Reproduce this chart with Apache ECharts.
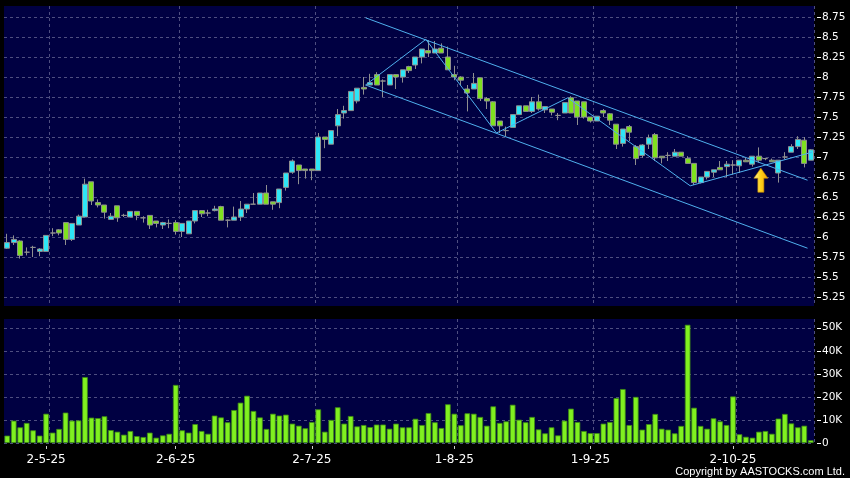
<!DOCTYPE html>
<html><head><meta charset="utf-8">
<script src="https://cdn.jsdelivr.net/npm/echarts@6/dist/echarts.min.js"></script>
<style>html,body{margin:0;padding:0;background:#000;}#c{width:850px;height:478px;}</style>
</head><body><div id="c"></div>
<script>
const categories = [
'23-4-25','24-4-25','25-4-25','28-4-25','29-4-25','30-4-25',
'2-5-25','6-5-25','7-5-25','8-5-25','9-5-25','12-5-25','13-5-25','14-5-25','15-5-25','16-5-25','19-5-25','20-5-25','21-5-25','22-5-25','23-5-25','26-5-25','27-5-25','28-5-25','29-5-25','30-5-25',
'2-6-25','3-6-25','4-6-25','5-6-25','6-6-25','9-6-25','10-6-25','11-6-25','12-6-25','13-6-25','16-6-25','17-6-25','18-6-25','19-6-25','20-6-25','23-6-25','24-6-25','25-6-25','26-6-25','27-6-25','30-6-25',
'2-7-25','3-7-25','4-7-25','7-7-25','8-7-25','9-7-25','10-7-25','11-7-25','14-7-25','15-7-25','16-7-25','17-7-25','18-7-25','21-7-25','22-7-25','23-7-25','24-7-25','25-7-25','28-7-25','29-7-25','30-7-25','31-7-25',
'1-8-25','4-8-25','5-8-25','6-8-25','7-8-25','8-8-25','11-8-25','12-8-25','13-8-25','14-8-25','15-8-25','18-8-25','19-8-25','20-8-25','21-8-25','22-8-25','25-8-25','26-8-25','27-8-25','28-8-25','29-8-25',
'1-9-25','2-9-25','3-9-25','4-9-25','5-9-25','8-9-25','9-9-25','10-9-25','11-9-25','12-9-25','15-9-25','16-9-25','17-9-25','18-9-25','19-9-25','22-9-25','23-9-25','24-9-25','25-9-25','26-9-25','29-9-25','30-9-25',
'2-10-25','3-10-25','6-10-25','8-10-25','9-10-25','10-10-25','13-10-25','14-10-25','15-10-25','16-10-25','17-10-25','20-10-25','21-10-25'
];
const opens = [
5.86,5.93,5.95,5.81,5.87,5.82,5.82,6.05,6.09,6.18,5.97,6.15,6.25,6.69,6.43,6.40,6.22,6.39,6.27,6.25,
6.32,6.24,6.27,6.20,6.15,6.17,6.18,6.07,6.04,6.20,6.33,6.30,6.33,6.38,6.21,6.21,6.25,6.35,6.41,6.41,
6.55,6.44,6.43,6.62,6.81,6.90,6.85,6.85,6.83,7.25,7.16,7.39,7.55,7.58,7.70,7.87,7.90,8.03,7.95,7.90,
8.03,8.00,8.13,8.15,8.25,8.33,8.30,8.36,8.25,8.03,8.00,7.85,7.85,7.99,7.73,7.69,7.45,7.33,7.37,7.53,
7.64,7.57,7.69,7.59,7.60,7.52,7.55,7.74,7.70,7.69,7.50,7.45,7.58,7.54,7.41,7.17,7.38,7.13,7.02,7.16,
7.28,7.01,7.02,7.01,7.06,6.98,6.92,6.68,6.75,6.81,6.87,6.88,6.90,6.89,6.96,6.91,7.01,6.98,6.96,6.80,
7.00,7.06,7.13,7.21,6.96
];
const closes = [
5.93,5.97,5.77,5.81,5.87,5.85,6.02,6.05,6.05,5.97,6.17,6.26,6.66,6.45,6.40,6.31,6.26,6.24,6.27,6.32,
6.27,6.24,6.15,6.17,6.18,6.17,6.07,6.17,6.20,6.33,6.29,6.30,6.35,6.21,6.21,6.25,6.35,6.41,6.41,6.55,
6.41,6.41,6.60,6.80,6.95,6.83,6.83,6.83,7.25,7.22,7.33,7.53,7.58,7.82,7.86,7.85,7.93,7.90,7.95,8.03,
8.00,8.09,8.08,8.25,8.35,8.30,8.35,8.30,8.09,8.00,7.96,7.80,7.92,7.73,7.70,7.39,7.39,7.33,7.53,7.64,
7.57,7.69,7.60,7.63,7.56,7.52,7.68,7.55,7.50,7.50,7.45,7.51,7.55,7.46,7.16,7.35,7.31,6.98,7.15,7.24,
6.99,6.99,7.02,7.06,7.01,6.92,6.68,6.75,6.82,6.84,6.84,6.91,6.90,6.96,6.94,7.01,6.96,6.98,6.94,6.96,
7.00,7.13,7.22,6.92,7.09
];
const lows = [
5.85,5.90,5.73,5.77,5.75,5.76,5.82,6.01,6.02,5.90,5.95,6.15,6.25,6.40,6.37,6.23,6.22,6.19,6.25,6.25,
6.21,6.18,6.10,6.12,6.10,6.11,6.03,6.00,6.04,6.17,6.25,6.26,6.32,6.21,6.12,6.21,6.20,6.30,6.41,6.41,
6.41,6.34,6.36,6.58,6.79,6.66,6.73,6.71,6.83,7.11,7.16,7.26,7.48,7.58,7.67,7.78,7.90,7.90,7.75,7.90,
7.85,7.93,8.05,8.10,8.17,8.25,8.30,8.30,8.09,7.96,7.90,7.57,7.85,7.70,7.60,7.39,7.30,7.26,7.37,7.53,
7.57,7.55,7.58,7.55,7.52,7.46,7.55,7.55,7.40,7.48,7.43,7.45,7.50,7.40,7.10,7.13,7.20,6.90,6.99,7.10,
6.95,6.92,6.95,7.01,7.01,6.92,6.65,6.67,6.72,6.75,6.84,6.75,6.78,6.80,6.94,6.88,6.93,6.96,6.94,6.68,
6.97,7.06,7.10,6.87,6.96
];
const highs = [
6.04,6.02,5.96,5.87,5.89,5.86,6.02,6.11,6.10,6.18,6.17,6.28,6.73,6.69,6.47,6.40,6.30,6.39,6.29,6.32,
6.32,6.26,6.27,6.20,6.19,6.22,6.21,6.17,6.20,6.33,6.33,6.34,6.39,6.39,6.22,6.38,6.45,6.41,6.55,6.55,
6.65,6.44,6.60,6.80,6.97,6.90,6.85,6.85,7.30,7.25,7.33,7.60,7.64,7.82,7.86,8.00,8.04,8.06,7.97,8.03,
8.03,8.09,8.14,8.25,8.35,8.46,8.45,8.42,8.38,8.14,8.01,7.90,8.05,7.99,7.75,7.70,7.45,7.38,7.53,7.64,
7.64,7.75,7.78,7.63,7.60,7.55,7.68,7.76,7.70,7.69,7.50,7.51,7.60,7.55,7.41,7.35,7.40,7.15,7.16,7.28,
7.30,7.01,7.06,7.10,7.06,7.01,6.92,6.75,6.82,6.84,6.95,6.95,6.96,6.96,6.99,7.01,7.12,6.99,6.98,6.96,
7.06,7.16,7.26,7.25,7.10
];
const volumes = [
3200,9700,6800,8700,5500,3200,12700,4500,6100,13200,9700,9800,28600,11000,10800,11600,5600,4900,3600,5200,
3000,2600,4500,2300,3300,4000,25200,5500,4500,8200,5200,4000,11900,11100,9000,14300,17500,20500,13900,11100,
6100,12700,11900,12300,8400,7500,6400,9100,14600,4900,10000,15500,8400,11700,7200,7800,6900,8000,8000,6200,
8400,6800,6800,10500,7800,13000,9000,6500,16800,12700,7700,12900,12700,11300,7500,15900,8700,9400,16600,10100,
9000,11300,5900,4200,6800,3300,9700,14900,9100,5200,4300,4300,8400,9100,19500,23400,7800,20000,5800,8200,
12600,6200,5800,4200,7400,51300,15300,7400,6200,10700,9400,7800,20200,3800,2700,2300,4900,5200,4000,10600,
12600,8500,6800,7500,1200
];
const xTickLabels = ['2-5-25','2-6-25','2-7-25','1-8-25','1-9-25','2-10-25'];
const priceTicks = [5.25,5.5,5.75,6,6.25,6.5,6.75,7,7.25,7.5,7.75,8,8.25,8.5,8.75];
const volumeTicks = [0,10000,20000,30000,40000,50000];
// annotation lines, in [bar index, price]
const trendZigzag = [[55.3,7.90],[64.6,8.47],[75.5,7.30],[86.5,7.74],[105.4,6.64],[124.2,7.06]];
const channelUpper = [[55.3,8.74],[123.5,6.71]];
const channelLower = [[55.3,7.90],[123.5,5.86]];
const arrowMark = [[116.3,6.71]];

const ohlc = categories.map((c,i)=>[opens[i],closes[i],lows[i],highs[i]]);
const isTick = (idx,val)=>xTickLabels.includes(categories[idx]);
const isSplit = (idx)=>idx>0 && xTickLabels.includes(categories[idx-1]);

const NAVY = '#000042';
const GRIDLINE = {color:'#4e4e80', type:[3,3], width:1};
const LABEL_Y = {color:'#ffffff', fontFamily:'DejaVu Sans', fontSize:10.5, margin:5};
const LINE_COLOR = '#4fb0ee';

const chart = echarts.init(document.getElementById('c'), null, {renderer:'canvas'});
chart.setOption({
  backgroundColor:'#000000',
  animation:false,
  grid:[
    {left:4, right:36, top:6, height:300, show:true, backgroundColor:NAVY, borderWidth:0},
    {left:4, right:36, top:319, height:124, show:true, backgroundColor:NAVY, borderWidth:0}
  ],
  xAxis:[
    {type:'category', gridIndex:0, data:categories, boundaryGap:true,
     axisLine:{show:false, onZero:false}, axisTick:{show:false}, axisLabel:{show:false},
     splitLine:{show:true, interval:isSplit, lineStyle:GRIDLINE}},
    {type:'category', gridIndex:1, data:categories, boundaryGap:true, offset:3,
     axisLine:{show:false, onZero:false},
     axisTick:{show:true, alignWithLabel:true, interval:isTick, length:3, lineStyle:{color:'#cccccc'}},
     axisLabel:{show:true, interval:isTick, color:'#ffffff', fontFamily:'DejaVu Sans', fontSize:12, margin:8},
     splitLine:{show:true, interval:isSplit, lineStyle:GRIDLINE}},
    {type:'value', gridIndex:0, min:-0.5, max:categories.length-0.5, show:false, axisLine:{onZero:false}}
  ],
  yAxis:[
    {type:'value', gridIndex:0, position:'right', min:5.1375, max:8.8875, offset:3,
     axisLine:{show:false, onZero:false},
     axisTick:{show:true, length:4, customValues:priceTicks, lineStyle:{color:'#ffffff', width:1}},
     axisLabel:Object.assign({customValues:priceTicks, formatter:v=>String(v)}, LABEL_Y),
     splitLine:{show:true, lineStyle:GRIDLINE}},
    {type:'value', gridIndex:1, position:'right', min:0, max:53800, offset:3,
     axisLine:{show:false, onZero:false},
     axisTick:{show:true, length:4, customValues:volumeTicks, lineStyle:{color:'#ffffff', width:1}},
     axisLabel:Object.assign({customValues:volumeTicks, formatter:v=>v===0?'0':(v/1000)+'K'}, LABEL_Y),
     splitLine:{show:true, lineStyle:GRIDLINE}}
  ],
  series:[
    {type:'candlestick', xAxisIndex:0, yAxisIndex:0, data:ohlc, barWidth:5.5,
     itemStyle:{color:'#2ee6f6', color0:'#7fe11f', borderColor:'#8f8f8f', borderColor0:'#8f8f8f', borderColorDoji:'#8f8f8f', borderWidth:1}},
    {type:'bar', xAxisIndex:1, yAxisIndex:1, data:volumes, barWidth:5.6,
     itemStyle:{color:'#80f020', borderColor:'#3d8c14', borderWidth:0.8}},
    {type:'line', xAxisIndex:2, yAxisIndex:0, data:trendZigzag, symbol:'none', silent:true, z:5,
     lineStyle:{color:LINE_COLOR, width:1}},
    {type:'line', xAxisIndex:2, yAxisIndex:0, data:channelUpper, symbol:'none', silent:true, z:5,
     lineStyle:{color:LINE_COLOR, width:1}},
    {type:'line', xAxisIndex:2, yAxisIndex:0, data:channelLower, symbol:'none', silent:true, z:5,
     lineStyle:{color:LINE_COLOR, width:1}},
    {type:'scatter', xAxisIndex:2, yAxisIndex:0, data:arrowMark, silent:true, z:6,
     symbol:'path://M7,0 L14,10 L10,10 L10,24 L4,24 L4,10 L0,10 Z', symbolSize:[14,24],
     itemStyle:{opacity:1, color:new echarts.graphic.LinearGradient(0,0,1,0,[{offset:0,color:'#fff7a8'},{offset:0.45,color:'#ffd41c'},{offset:1,color:'#f2a200'}]),
       borderColor:'#c88a00', borderWidth:0.6}}
  ],
  graphic:[
    {type:'text', right:5, bottom:1, style:{text:'Copyright by AASTOCKS.com Ltd.', fill:'#ffffff', font:'11px "Liberation Sans"'}}
  ]
});
</script></body></html>
